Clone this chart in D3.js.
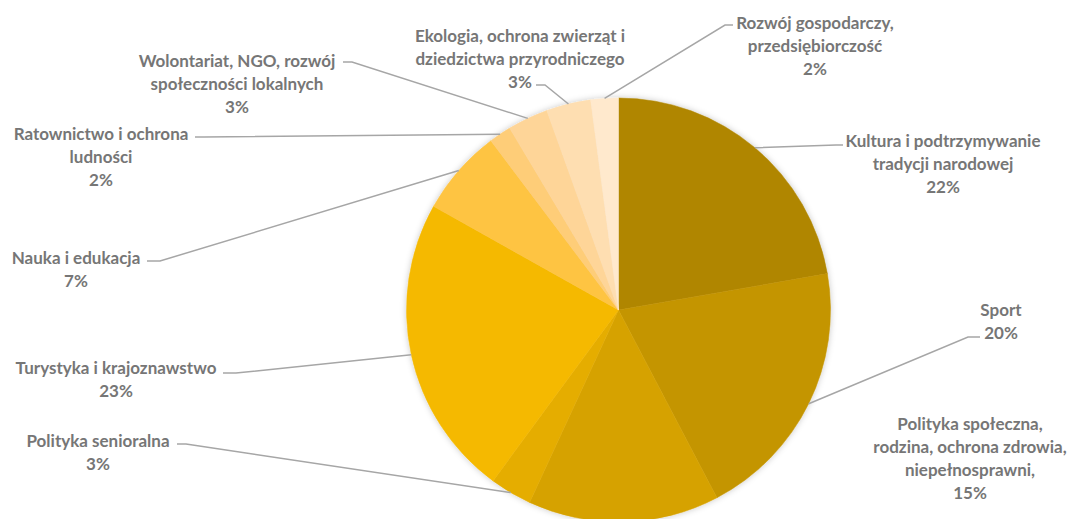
<!DOCTYPE html>
<html>
<head>
<meta charset="utf-8">
<script src="https://cdn.jsdelivr.net/npm/d3@7"></script>
<style>
  html, body { margin: 0; padding: 0; background: #fff; }
  svg { display: block; }
  text { font-family: "Lato", "Open Sans", sans-serif; font-weight: 700; fill: #767676; }
</style>
</head>
<body>
<svg id="chart" width="1073" height="519"></svg>
<script>
// ---- data ----
const categories = [
  "Kultura i podtrzymywanie tradycji narodowej",
  "Sport",
  "Polityka społeczna, rodzina, ochrona zdrowia, niepełnosprawni,",
  "Polityka senioralna",
  "Turystyka i krajoznawstwo",
  "Nauka i edukacja",
  "Ratownictwo i ochrona ludności",
  "Wolontariat, NGO, rozwój społeczności lokalnych",
  "Ekologia, ochrona zwierząt i dziedzictwa przyrodniczego",
  "Rozwój gospodarczy, przedsiębiorczość"
];
const values = [22.3, 20.1, 14.6, 3.2, 23.1, 6.6, 1.7, 3.1, 3.4, 2.1];
const percentLabels = ["22%", "20%", "15%", "3%", "23%", "7%", "2%", "3%", "3%", "2%"];
const labelLines = [
  ["Kultura i podtrzymywanie", "tradycji narodowej"],
  ["Sport"],
  ["Polityka społeczna,", "rodzina, ochrona zdrowia,", "niepełnosprawni,"],
  ["Polityka senioralna"],
  ["Turystyka i krajoznawstwo"],
  ["Nauka i edukacja"],
  ["Ratownictwo i ochrona", "ludności"],
  ["Wolontariat, NGO, rozwój", "społeczności lokalnych"],
  ["Ekologia, ochrona zwierząt i", "dziedzictwa przyrodniczego"],
  ["Rozwój gospodarczy,", "przedsiębiorczość"]
];

// ---- styling / layout ----
const colors = ["#b08600", "#c49500", "#d6a200", "#e5ad00", "#f5b900",
                "#fec443", "#fecd78", "#fed598", "#fedeb1", "#ffe9cd"];
// label block: centre x, first line centre y; leader: start point, elbow point (null = no leader)
const labelLayout = [
  {cx: 943, y0: 140, start: [843, 145], elbow: [836, 145]},
  {cx: 1001, y0: 309, start: [980, 337], elbow: [968, 337]},
  {cx: 970, y0: 423, start: null},
  {cx: 98, y0: 440, start: [177, 444], elbow: [186, 444]},
  {cx: 116, y0: 367, start: [223, 373], elbow: [236, 373]},
  {cx: 76, y0: 257, start: [147, 261], elbow: [160, 261]},
  {cx: 101, y0: 133, start: [195, 137], elbow: [204, 137]},
  {cx: 237, y0: 60, start: [343, 62], elbow: [352, 62]},
  {cx: 520, y0: 35, start: [536, 85], elbow: [545, 85]},
  {cx: 815, y0: 22, start: [733, 25], elbow: [725, 25]}
];
const lineH = 23;
const fontSize = 17;

const svg = d3.select("#chart");
const cx = 618.5, cy = 310, R = 212;

const defs = svg.append("defs");
const f = defs.append("filter").attr("id", "shadow").attr("x", "-10%").attr("y", "-10%").attr("width", "120%").attr("height", "120%");
f.append("feDropShadow").attr("dx", 0).attr("dy", 0).attr("stdDeviation", 3)
  .attr("flood-color", "#000").attr("flood-opacity", 0.22);

const pie = d3.pie().sort(null).value(d => d)(values);
const arc = d3.arc().innerRadius(0).outerRadius(R);
const edge = d3.arc().innerRadius(R).outerRadius(R);

const g = svg.append("g").attr("transform", `translate(${cx},${cy})`);
g.append("g").attr("filter", "url(#shadow)")
  .selectAll("path").data(pie).join("path")
  .attr("d", arc)
  .attr("fill", (d, i) => colors[i])
  .attr("stroke", (d, i) => colors[i])
  .attr("stroke-width", 0.5);

// leader lines
const leaders = svg.append("g");
pie.forEach((d, i) => {
  const L = labelLayout[i];
  if (!L.start) return;
  const p = edge.centroid(d);
  const pts = [L.start, L.elbow, [cx + p[0], cy + p[1]]];
  leaders.append("path")
    .attr("d", d3.line()(pts))
    .attr("fill", "none")
    .attr("stroke", "#a6a6a6")
    .attr("stroke-width", 1.5);
});

// labels
const labels = svg.append("g");
labelLines.forEach((lines, i) => {
  const L = labelLayout[i];
  const all = lines.concat([percentLabels[i]]);
  const t = labels.append("text")
    .attr("text-anchor", "middle")
    .attr("font-size", fontSize);
  all.forEach((s, k) => {
    t.append("tspan")
      .attr("x", L.cx)
      .attr("y", L.y0 + k * lineH)
      .attr("dominant-baseline", "central")
      .text(s);
  });
});
</script>
</body>
</html>
